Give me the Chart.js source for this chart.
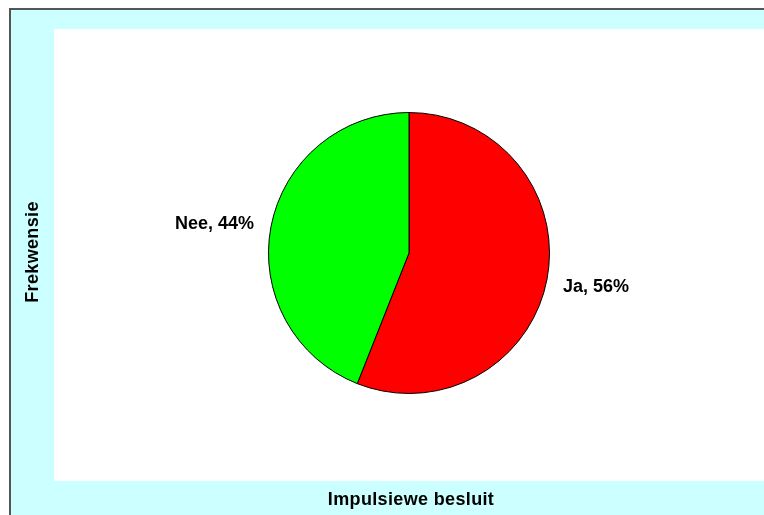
<!DOCTYPE html>
<html>
<head>
<meta charset="utf-8">
<script src="https://cdn.jsdelivr.net/npm/chart.js@4"></script>
<style>
  html, body { margin: 0; padding: 0; background: #ffffff; }
  #wrap { width: 764px; height: 515px; position: relative; }
</style>
</head>
<body>
<div id="wrap"><canvas id="myChart" width="764" height="515"></canvas></div>
<script>
const categories = ['Ja', 'Nee'];
const values = [56, 44];
const sliceColors = ['#FF0000', '#00FF00'];
const xTitle = 'Impulsiewe besluit';
const yTitle = 'Frekwensie';

const labelFont = 'bold 18px "Liberation Sans", Arial, sans-serif';

// background frame like the old spreadsheet chart
const framePlugin = {
    id: 'frame',
    beforeDraw(chart) {
        const c = chart.ctx;
        c.save();
        c.fillStyle = '#ffffff';
        c.fillRect(0, 0, chart.width, chart.height);
        c.fillStyle = '#CCFFFF';
        c.fillRect(10, 9, chart.width - 10, chart.height - 9);
        c.fillStyle = '#ffffff';
        c.fillRect(54, 29, chart.width - 54, 452);
        c.fillStyle = '#555555';
        c.fillRect(9, 8, chart.width - 9, 2);
        c.fillRect(9, 8, 2, chart.height - 8);
        c.restore();
    },
    afterDraw(chart) {
        const c = chart.ctx;
        c.save();
        c.fillStyle = '#000000';
        c.font = labelFont;
        c.letterSpacing = '0.35px';
        c.textAlign = 'center';
        c.textBaseline = 'middle';
        c.fillText(xTitle, 411, 500);
        c.translate(33, 252);
        c.rotate(-Math.PI / 2);
        c.fillText(yTitle, 0, 0);
        c.restore();
    }
};

// "Ja, 56%" style labels next to each slice
const sliceLabels = {
    id: 'sliceLabels',
    afterDatasetsDraw(chart) {
        const c = chart.ctx;
        const meta = chart.getDatasetMeta(0);
        const total = values.reduce((a, b) => a + b, 0);
        c.save();
        c.font = labelFont;
        c.fillStyle = '#000000';
        c.textBaseline = 'middle';
        meta.data.forEach((arc, i) => {
            const p = arc.getProps(['x', 'y', 'startAngle', 'endAngle', 'outerRadius'], true);
            const mid = (p.startAngle + p.endAngle) / 2;
            const px = p.x + Math.cos(mid) * p.outerRadius;
            const py = p.y + Math.sin(mid) * p.outerRadius;
            const txt = categories[i] + ', ' + Math.round(values[i] / total * 100) + '%';
            if (Math.cos(mid) >= 0) {
                c.textAlign = 'left';
                c.fillText(txt, px + 16, py + 8);
            } else {
                c.textAlign = 'right';
                c.fillText(txt, px - 17, py - 3);
            }
        });
        c.restore();
    }
};

const ctx = document.getElementById('myChart').getContext('2d');
const myChart = new Chart(ctx, {
    type: 'pie',
    data: {
        labels: categories,
        datasets: [{
            data: values,
            backgroundColor: sliceColors,
            borderColor: '#000000',
            borderWidth: 1
        }]
    },
    options: {
        responsive: false,
        animation: false,
        layout: {
            padding: { top: 112, bottom: 121, left: 109, right: 55 }
        },
        plugins: {
            legend: { display: false },
            tooltip: { enabled: false }
        }
    },
    plugins: [framePlugin, sliceLabels]
});
</script>
</body>
</html>
